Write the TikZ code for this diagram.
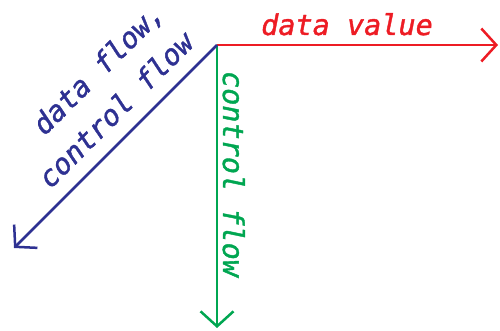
\documentclass[tikz,border=0pt]{standalone}
\usepackage{fontspec}
\usetikzlibrary{arrows.meta}
\newfontfamily\hand{DejaVu Sans Mono}[FakeBold=1.4]
\definecolor{flowred}{RGB}{237,28,36}
\definecolor{flowgreen}{RGB}{0,166,81}
\definecolor{flowblue}{RGB}{46,49,146}
\tikzset{
  flowline/.style={line width=2.5pt, -{Straight Barb[length=15pt,width=33pt]}},
  flowtext/.style={font=\hand\itshape\fontsize{28.5}{34}\selectfont, inner sep=0pt},
}
\begin{document}
\begin{tikzpicture}[x=1pt,y=-1pt]
\useasboundingbox (0,0) rectangle (500,331);
\coordinate (o) at (217,45);
\coordinate (r) at (498,45);
\coordinate (g) at (217,328);
\coordinate (b) at (14,248);
% the three outgoing flows
\draw[flowline, flowred] (o) -- (r);
\draw[flowline, flowgreen] (o) -- (g);
\draw[flowline, flowblue] (o) -- (b);
% labels
\node[flowtext, text=flowred, anchor=base] (lr) at (347,35) {data value};
\node[flowtext, text=flowgreen, rotate=-90, anchor=base] (lg) at (223,174) {control flow};
\node[flowtext, text=flowblue, rotate=45, anchor=base east] (lb2) at (196,44) {control flow};
\node[flowtext, text=flowblue, rotate=45, anchor=base east] (lb1) at (166,15) {data flow,};
\end{tikzpicture}
\end{document}
